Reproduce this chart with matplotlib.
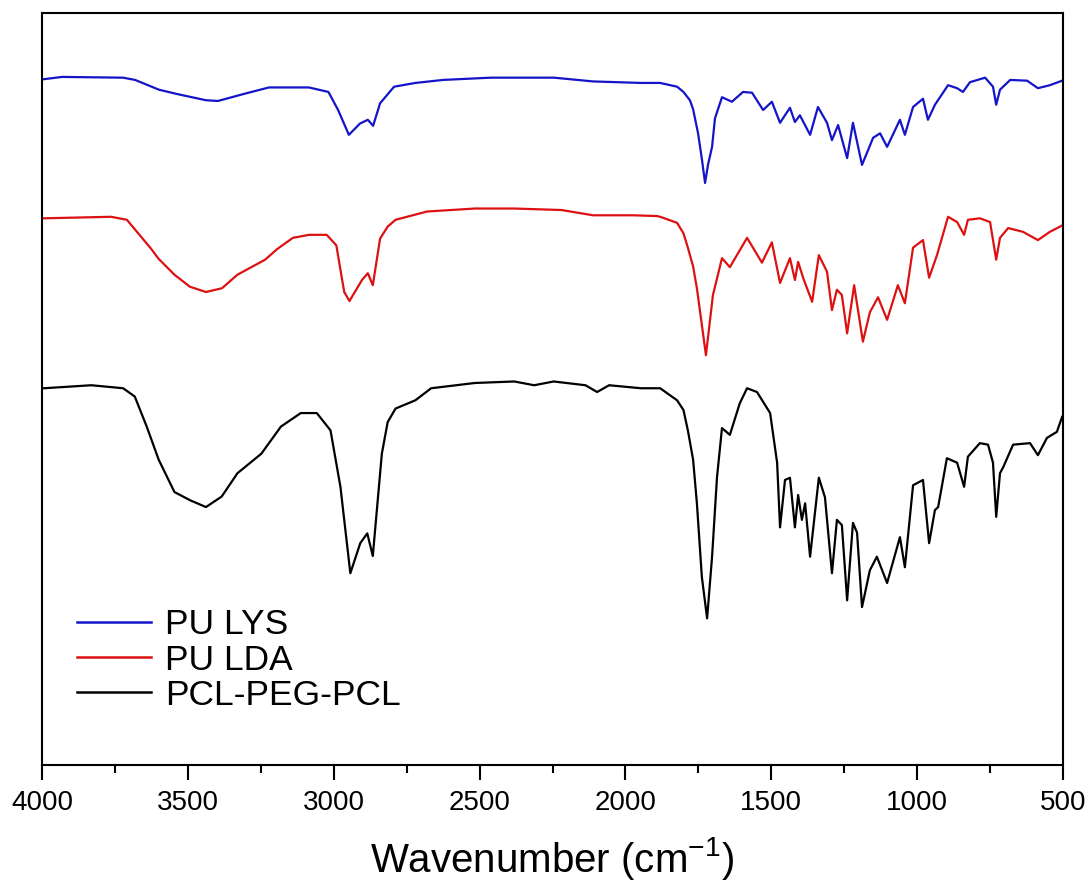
import matplotlib
matplotlib.use("Agg")
import matplotlib.pyplot as plt

plt.rcParams['font.family'] = ['Liberation Sans', 'DejaVu Sans']
plt.rcParams['mathtext.fontset'] = 'custom'
plt.rcParams['mathtext.rm'] = 'Liberation Sans'
plt.rcParams['mathtext.it'] = 'Liberation Sans'

labels = ["PU LYS", "PU LDA", "PCL-PEG-PCL"]
colors = ["#1414C8", "#DD1111", "#000000"]

lys_wn = [3993, 3931, 3722, 3681, 3599, 3534, 3438, 3397, 3302, 3222, 3085, 3018, 2985, 2948,
          2910, 2883, 2865, 2841, 2793, 2720, 2625, 2462, 2245, 2111, 1947, 1881, 1823, 1801,
          1779, 1768, 1751, 1738, 1727, 1717, 1703, 1693, 1669, 1635, 1597, 1566, 1528, 1498,
          1470, 1436, 1419, 1402, 1367, 1340, 1309, 1292, 1271, 1240, 1220, 1189, 1151, 1127,
          1103, 1059, 1042, 1014, 980, 963, 939, 894, 863, 843, 819, 767, 740, 729, 716, 681,
          623, 586, 545, 503]
lys_t = [91.2, 91.5, 91.4, 91.1, 89.8, 89.2, 88.4, 88.3, 89.3, 90.1, 90.1, 89.5, 87.1, 83.8,
         85.3, 85.8, 85.0, 88.0, 90.2, 90.7, 91.1, 91.4, 91.4, 90.9, 90.7, 90.7, 90.2, 89.5,
         88.4, 87.2, 84.0, 80.6, 77.4, 79.8, 82.2, 86.0, 88.8, 88.2, 89.5, 89.4, 87.1, 88.2,
         85.4, 87.4, 85.5, 86.4, 83.8, 87.5, 85.4, 83.1, 85.1, 80.7, 85.4, 79.8, 83.4, 84.0,
         82.2, 85.8, 83.8, 87.5, 88.6, 85.8, 87.8, 90.4, 90.0, 89.5, 90.8, 91.4, 90.2, 87.8,
         89.8, 91.1, 91.0, 90.0, 90.4, 91.0]

lda_wn = [3993, 3763, 3709, 3627, 3600, 3546, 3493, 3438, 3383, 3330, 3235, 3194, 3140, 3085,
          3024, 2991, 2964, 2946, 2903, 2883, 2866, 2841, 2815, 2788, 2680, 2516, 2382, 2219,
          2111, 1974, 1893, 1881, 1823, 1801, 1786, 1768, 1755, 1724, 1700, 1669, 1642, 1583,
          1532, 1498, 1470, 1436, 1419, 1408, 1391, 1360, 1337, 1309, 1292, 1275, 1258, 1240,
          1216, 1186, 1162, 1134, 1103, 1066, 1042, 1014, 980, 959, 932, 894, 863, 839, 826,
          785, 750, 729, 716, 688, 637, 586, 545, 500]
lda_t = [72.7, 72.9, 72.5, 68.7, 67.3, 65.2, 63.6, 62.9, 63.4, 65.2, 67.2, 68.6, 70.1, 70.5,
         70.5, 69.1, 62.9, 61.7, 64.5, 65.4, 63.8, 70.0, 71.6, 72.5, 73.6, 74.0, 74.0, 73.8,
         73.1, 73.1, 73.0, 72.9, 72.1, 70.7, 68.8, 66.3, 63.4, 54.5, 62.5, 67.4, 66.2, 70.1,
         66.8, 69.5, 64.1, 67.4, 64.5, 66.9, 64.8, 61.6, 67.8, 65.6, 60.5, 63.2, 62.5, 57.4,
         63.8, 56.3, 60.2, 62.2, 59.2, 63.8, 61.4, 68.8, 69.8, 64.8, 67.8, 72.9, 72.2, 70.5,
         72.5, 72.7, 72.2, 67.2, 70.1, 71.4, 70.9, 69.8, 70.9, 71.8]

pcl_wn = [3993, 3831, 3722, 3682, 3641, 3600, 3546, 3492, 3438, 3384, 3330, 3248, 3181, 3113,
          3058, 3011, 2977, 2943, 2909, 2885, 2866, 2835, 2815, 2788, 2720, 2666, 2516, 2381,
          2313, 2246, 2137, 2097, 2056, 1947, 1893, 1881, 1823, 1801, 1786, 1768, 1755, 1738,
          1720, 1703, 1686, 1669, 1642, 1608, 1583, 1549, 1504, 1480, 1470, 1453, 1436, 1419,
          1408, 1395, 1384, 1367, 1337, 1316, 1292, 1275, 1258, 1240, 1220, 1206, 1189, 1162,
          1138, 1103, 1059, 1042, 1014, 980, 959, 939, 928, 898, 863, 839, 826, 785, 757, 740,
          729, 716, 705, 671, 613, 586, 555, 521, 503]
pcl_t = [50.1, 50.5, 50.1, 49.0, 45.0, 40.6, 36.3, 35.2, 34.3, 35.7, 38.8, 41.4, 45.0, 46.8,
         46.8, 44.5, 37.0, 25.5, 29.5, 30.8, 27.8, 41.4, 45.6, 47.4, 48.5, 50.1, 50.8, 51.0,
         50.5, 51.0, 50.5, 49.6, 50.5, 50.1, 50.1, 50.1, 48.5, 47.2, 44.5, 40.6, 34.8, 25.0,
         19.5, 27.7, 38.3, 44.8, 43.9, 48.1, 50.1, 49.6, 46.8, 40.2, 31.6, 37.9, 38.2, 31.6,
         35.9, 32.6, 34.8, 27.7, 38.2, 35.6, 25.5, 32.6, 31.9, 21.9, 32.2, 30.9, 21.0, 25.9,
         27.7, 24.2, 30.3, 26.3, 37.2, 37.9, 29.5, 33.9, 34.3, 40.8, 40.2, 37.0, 41.0, 42.8,
         42.6, 40.2, 33.0, 38.8, 39.6, 42.6, 42.8, 41.2, 43.5, 44.3, 46.3]

series_wn = [lys_wn, lda_wn, pcl_wn]
series_t = [lys_t, lda_t, pcl_t]

fig = plt.figure(figsize=(10.9, 8.81), dpi=100)
ax = fig.add_axes([42/1090, 116/881, 1021/1090, 752/881])

for wn, t, c, lab in zip(series_wn, series_t, colors, labels):
    ax.plot(wn, t, color=c, lw=1.6, label=lab, solid_joinstyle='round')

ax.set_xlim(4000, 500)
ax.set_ylim(0, 100)
ax.set_xticks([4000, 3500, 3000, 2500, 2000, 1500, 1000, 500])
ax.set_xticks([3750, 3250, 2750, 2250, 1750, 1250, 750], minor=True)
ax.set_yticks([])
ax.tick_params(axis='x', which='major', direction='out', length=11, width=1.5,
               labelsize=20, pad=7)
ax.tick_params(axis='x', which='minor', direction='out', length=6, width=1.5)
for s in ax.spines.values():
    s.set_linewidth(1.5)

ax.set_xlabel('Wavenumber (cm$^{-1}$)', fontsize=29, labelpad=14)

leg = ax.legend(loc='lower left', bbox_to_anchor=(0.02, 0.052), frameon=False,
                fontsize=25.5, handlelength=2.1, handletextpad=0.4, labelspacing=0.06,
                borderaxespad=0.0)
for h in leg.get_lines():
    h.set_linewidth(1.8)

fig.savefig("out.png", dpi=100)
